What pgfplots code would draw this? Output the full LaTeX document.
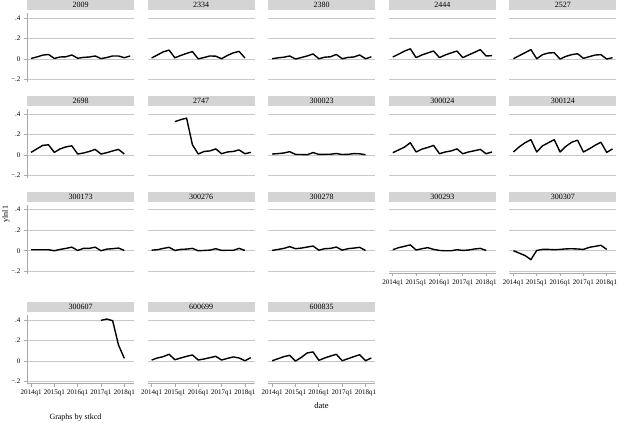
\documentclass[border=0pt]{standalone}
\usepackage{pgfplots}
\pgfplotsset{compat=1.18}
\usepackage{fontspec}
\setmainfont{Liberation Serif}
\definecolor{stripgray}{RGB}{212,212,212}
\definecolor{gridgray}{RGB}{200,200,200}
\definecolor{axgray}{RGB}{170,170,170}
\pgfplotsset{
  panel/.style={
    scale only axis, width=107pt, height=68.7pt, anchor=north west,
    xmin=-0.686, xmax=17.66, ymin=-0.22, ymax=0.45,
    xtick={0,4,8,12,16}, ytick={-0.2,0,0.2,0.4},
    xticklabels={}, yticklabels={},
    axis line style={draw=none},
    ymajorgrids, grid style={gridgray, line width=0.8pt},
    major tick length=3pt, tick align=outside,
    xtick pos=bottom, ytick pos=left,
    xtick style={draw=none}, ytick style={draw=none},
    ticklabel style={font=\fontsize{7}{8}\selectfont},
    every axis title shift=0pt,
    title style={at={(0.5,1)}, anchor=south, yshift=2.4pt, fill=stripgray,
      minimum width=107pt, minimum height=10.4pt, inner sep=0pt,
      font=\fontsize{8}{9}\selectfont},
    cycle list={{black, mark=none}},
    every axis plot post/.append style={draw=black, line width=1.4pt, line join=round},
  },
  leftcol/.style={
    ytick style={draw=axgray, line width=0.8pt},
    yticklabels={−.2,0,.2,.4},
  },
  bottomrow/.style={
    xtick style={draw=axgray, line width=0.8pt},
    xticklabels={2014q1,2015q1,2016q1,2017q1,2018q1},
  },
}
\newcommand{\yline}{\draw[axgray, line width=1.6pt] (rel axis cs:0,-0.04) -- (rel axis cs:0,1);}
\newcommand{\xline}{\draw[axgray, line width=1.6pt] (rel axis cs:0,0) -- (rel axis cs:1,0);}
\begin{document}
\begin{tikzpicture}
\useasboundingbox (0,0) rectangle (619pt,-423pt);
% ---------------- row 1
\begin{axis}[panel, leftcol, at={(27pt,-12.9pt)}, title={2009}]
\addplot coordinates {(0,0.006)(1,0.02)(2,0.038)(3,0.045)(4,0.006)(5,0.02)(6,0.022)(7,0.04)(8,0.008)(9,0.016)(10,0.02)(11,0.03)(12,0.004)(13,0.015)(14,0.03)(15,0.03)(16,0.013)(17,0.03)};
\yline
\end{axis}
\begin{axis}[panel, at={(147.6pt,-12.9pt)}, title={2334}]
\addplot coordinates {(0,0.01)(1,0.04)(2,0.07)(3,0.087)(4,0.012)(5,0.035)(6,0.055)(7,0.073)(8,0.002)(9,0.015)(10,0.03)(11,0.028)(12,0.003)(13,0.035)(14,0.06)(15,0.075)(16,0.01)};
\end{axis}
\begin{axis}[panel, at={(268.2pt,-12.9pt)}, title={2380}]
\addplot coordinates {(0,0.003)(1,0.012)(2,0.018)(3,0.03)(4,0.0)(5,0.015)(6,0.03)(7,0.05)(8,0.003)(9,0.018)(10,0.022)(11,0.045)(12,0.003)(13,0.016)(14,0.02)(15,0.04)(16,0.003)(17,0.022)};
\end{axis}
\begin{axis}[panel, at={(388.8pt,-12.9pt)}, title={2444}]
\addplot coordinates {(0,0.02)(1,0.048)(2,0.077)(3,0.1)(4,0.014)(5,0.04)(6,0.06)(7,0.078)(8,0.014)(9,0.04)(10,0.06)(11,0.078)(12,0.014)(13,0.04)(14,0.065)(15,0.092)(16,0.03)(17,0.033)};
\end{axis}
\begin{axis}[panel, at={(509.4pt,-12.9pt)}, title={2527}]
\addplot coordinates {(0,0.003)(1,0.033)(2,0.062)(3,0.092)(4,0.003)(5,0.043)(6,0.059)(7,0.062)(8,0.0)(9,0.026)(10,0.043)(11,0.052)(12,0.007)(13,0.023)(14,0.039)(15,0.043)(16,0.0)(17,0.013)};
\end{axis}
% ---------------- row 2
\begin{axis}[panel, leftcol, at={(27pt,-108.9pt)}, title={2698}]
\addplot coordinates {(0,0.026)(1,0.06)(2,0.094)(3,0.1)(4,0.026)(5,0.06)(6,0.08)(7,0.09)(8,0.01)(9,0.02)(10,0.035)(11,0.055)(12,0.01)(13,0.023)(14,0.04)(15,0.055)(16,0.01)};
\yline
\end{axis}
\begin{axis}[panel, at={(147.6pt,-108.9pt)}, title={2747}]
\addplot coordinates {(4,0.326)(5,0.345)(6,0.36)(7,0.1)(8,0.01)(9,0.035)(10,0.04)(11,0.06)(12,0.013)(13,0.03)(14,0.035)(15,0.05)(16,0.013)(17,0.026)};
\end{axis}
\begin{axis}[panel, at={(268.2pt,-108.9pt)}, title={300023}]
\addplot coordinates {(0,0.01)(1,0.014)(2,0.02)(3,0.033)(4,0.006)(5,0.005)(6,0.003)(7,0.024)(8,0.006)(9,0.007)(10,0.008)(11,0.015)(12,0.005)(13,0.007)(14,0.014)(15,0.012)(16,0.003)};
\end{axis}
\begin{axis}[panel, at={(388.8pt,-108.9pt)}, title={300024}]
\addplot coordinates {(0,0.023)(1,0.05)(2,0.077)(3,0.12)(4,0.03)(5,0.058)(6,0.074)(7,0.094)(8,0.013)(9,0.03)(10,0.04)(11,0.06)(12,0.013)(13,0.03)(14,0.042)(15,0.055)(16,0.013)(17,0.03)};
\end{axis}
\begin{axis}[panel, at={(509.4pt,-108.9pt)}, title={300124}]
\addplot coordinates {(0,0.03)(1,0.08)(2,0.12)(3,0.15)(4,0.03)(5,0.09)(6,0.12)(7,0.15)(8,0.03)(9,0.085)(10,0.125)(11,0.145)(12,0.03)(13,0.06)(14,0.095)(15,0.125)(16,0.026)(17,0.06)};
\end{axis}
% ---------------- row 3
\begin{axis}[panel, leftcol, at={(27pt,-204.6pt)}, title={300173}]
\addplot coordinates {(0,0.01)(1,0.01)(2,0.01)(3,0.01)(4,0.0)(5,0.013)(6,0.023)(7,0.035)(8,0.003)(9,0.023)(10,0.023)(11,0.035)(12,0.0)(13,0.016)(14,0.02)(15,0.026)(16,0.003)};
\yline
\end{axis}
\begin{axis}[panel, at={(147.6pt,-204.6pt)}, title={300276}]
\addplot coordinates {(0,0.006)(1,0.01)(2,0.023)(3,0.033)(4,0.003)(5,0.013)(6,0.016)(7,0.023)(8,0.0)(9,0.003)(10,0.006)(11,0.02)(12,0.003)(13,0.005)(14,0.004)(15,0.023)(16,0.003)};
\end{axis}
\begin{axis}[panel, at={(268.2pt,-204.6pt)}, title={300278}]
\addplot coordinates {(0,0.003)(1,0.013)(2,0.023)(3,0.04)(4,0.02)(5,0.026)(6,0.036)(7,0.046)(8,0.006)(9,0.02)(10,0.023)(11,0.036)(12,0.006)(13,0.02)(14,0.026)(15,0.033)(16,0.003)};
\end{axis}
\begin{axis}[panel, bottomrow, at={(388.8pt,-204.6pt)}, title={300293}]
\addplot coordinates {(0,0.01)(1,0.03)(2,0.043)(3,0.057)(4,0.007)(5,0.02)(6,0.03)(7,0.013)(8,0.003)(9,0.0)(10,0.0)(11,0.01)(12,0.003)(13,0.007)(14,0.017)(15,0.023)(16,0.003)};
\xline
\end{axis}
\begin{axis}[panel, bottomrow, at={(509.4pt,-204.6pt)}, title={300307}]
\addplot coordinates {(0,0.0)(1,-0.023)(2,-0.047)(3,-0.087)(4,0.003)(5,0.013)(6,0.013)(7,0.01)(8,0.013)(9,0.018)(10,0.02)(11,0.017)(12,0.013)(13,0.033)(14,0.043)(15,0.053)(16,0.013)};
\xline
\end{axis}
% ---------------- row 4
\begin{axis}[panel, leftcol, bottomrow, at={(27pt,-314.9pt)}, title={300607}]
\addplot coordinates {(12,0.397)(13,0.41)(14,0.393)(15,0.157)(16,0.026)};
\yline
\xline
\end{axis}
\begin{axis}[panel, bottomrow, at={(147.6pt,-314.9pt)}, title={600699}]
\addplot coordinates {(0,0.01)(1,0.03)(2,0.043)(3,0.066)(4,0.013)(5,0.03)(6,0.046)(7,0.059)(8,0.01)(9,0.02)(10,0.033)(11,0.046)(12,0.01)(13,0.026)(14,0.04)(15,0.03)(16,0.003)(17,0.033)};
\xline
\end{axis}
\begin{axis}[panel, bottomrow, at={(268.2pt,-314.9pt)}, title={600835}]
\addplot coordinates {(0,0.003)(1,0.023)(2,0.043)(3,0.056)(4,0.0)(5,0.036)(6,0.079)(7,0.089)(8,0.007)(9,0.03)(10,0.049)(11,0.066)(12,0.003)(13,0.023)(14,0.043)(15,0.062)(16,0.003)(17,0.03)};
\xline
\end{axis}
% ---------------- labels
\node[rotate=90, font=\fontsize{8}{9}\selectfont] at (6pt,-214pt) {ylnl1};
\node[font=\fontsize{8.5}{10}\selectfont] at (321.5pt,-406pt) {date};
\node[font=\fontsize{8}{9}\selectfont] at (75.5pt,-418pt) {Graphs by stkcd};
\end{tikzpicture}
\end{document}
